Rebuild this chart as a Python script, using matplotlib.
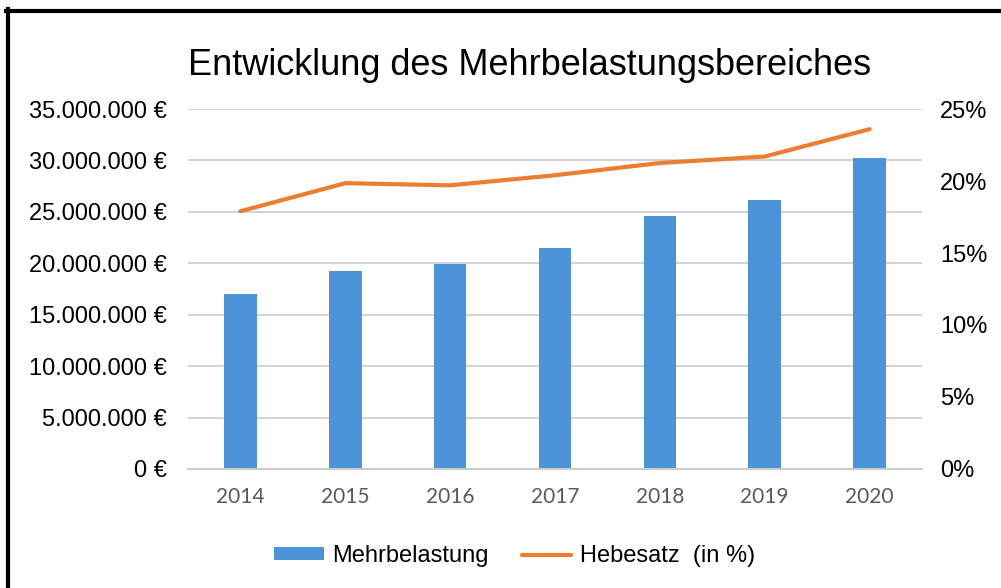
import matplotlib.pyplot as plt
from matplotlib.lines import Line2D
from matplotlib.ticker import FuncFormatter

# Daten
jahre = ['2014', '2015', '2016', '2017', '2018', '2019', '2020']
mehrbelastung = [17000000, 19250000, 19900000, 21500000, 24600000, 26150000, 30200000]
hebesatz = [0.179, 0.1985, 0.197, 0.204, 0.2125, 0.217, 0.236]

plt.rcParams['font.family'] = ['Liberation Sans', 'DejaVu Sans']

fig = plt.figure(figsize=(10.01, 5.88), dpi=100)
ax = fig.add_axes([0.1878, 0.2024, 0.7333, 0.6122])
ax2 = ax.twinx()

x = range(len(jahre))
ax.bar(x, mehrbelastung, width=0.31, color='#4d93d9', zorder=2, label='Mehrbelastung')
ax2.plot(x, hebesatz, color='#ed7d31', linewidth=3, solid_capstyle='round',
         label='Hebesatz  (in %)')

ax.set_xlim(-0.5, len(jahre) - 0.5)
ax.set_ylim(0, 35000000)
ax.set_yticks(range(0, 35000001, 5000000))
ax.yaxis.set_major_formatter(FuncFormatter(lambda v, p: f'{int(v):,}'.replace(',', '.') + ' €'))
ax2.set_ylim(0, 0.25)
ax2.set_yticks([0, 0.05, 0.10, 0.15, 0.20, 0.25])
ax2.yaxis.set_major_formatter(FuncFormatter(lambda v, p: f'{v * 100:.0f}%'))

ax.set_xticks(list(x))
ax.set_xticklabels(jahre, family=['Lato', 'DejaVu Sans'], fontsize=15, color='#595959')
ax.tick_params(axis='x', length=0, pad=13)
ax.tick_params(axis='y', length=0, pad=15, labelsize=17, labelcolor='black')
ax2.tick_params(axis='y', length=0, pad=13, labelsize=17, labelcolor='black')

ax.grid(axis='y', color='#d0d0d0', linewidth=1.3, zorder=0)
for a in (ax, ax2):
    for s in ['top', 'right', 'left']:
        a.spines[s].set_visible(False)
    a.spines['bottom'].set_color('#cccccc')
    a.spines['bottom'].set_linewidth(1.3)
ax.set_zorder(ax2.get_zorder() - 1)
ax.patch.set_visible(True)
ax2.patch.set_visible(False)

fig.text(0.529, 1 - 75 / 588, 'Entwicklung des Mehrbelastungsbereiches',
         ha='center', va='baseline', fontsize=26)

h1, l1 = ax.get_legend_handles_labels()
h2, l2 = ax2.get_legend_handles_labels()
fig.legend(h1 + h2, l1 + l2, loc='center', bbox_to_anchor=(0.514, 0.054), ncol=2,
           frameon=False, fontsize=17, handlelength=2.1, handleheight=0.45,
           handletextpad=0.35, columnspacing=1.4)

# Rahmen links und oben
fig.add_artist(Line2D([8 / 1001, 8 / 1001], [0, 1 - 9 / 588], color='black', linewidth=3))
fig.add_artist(Line2D([6 / 1001, 1], [1 - 11 / 588, 1 - 11 / 588], color='black', linewidth=3))

fig.savefig('out.png', dpi=100)
